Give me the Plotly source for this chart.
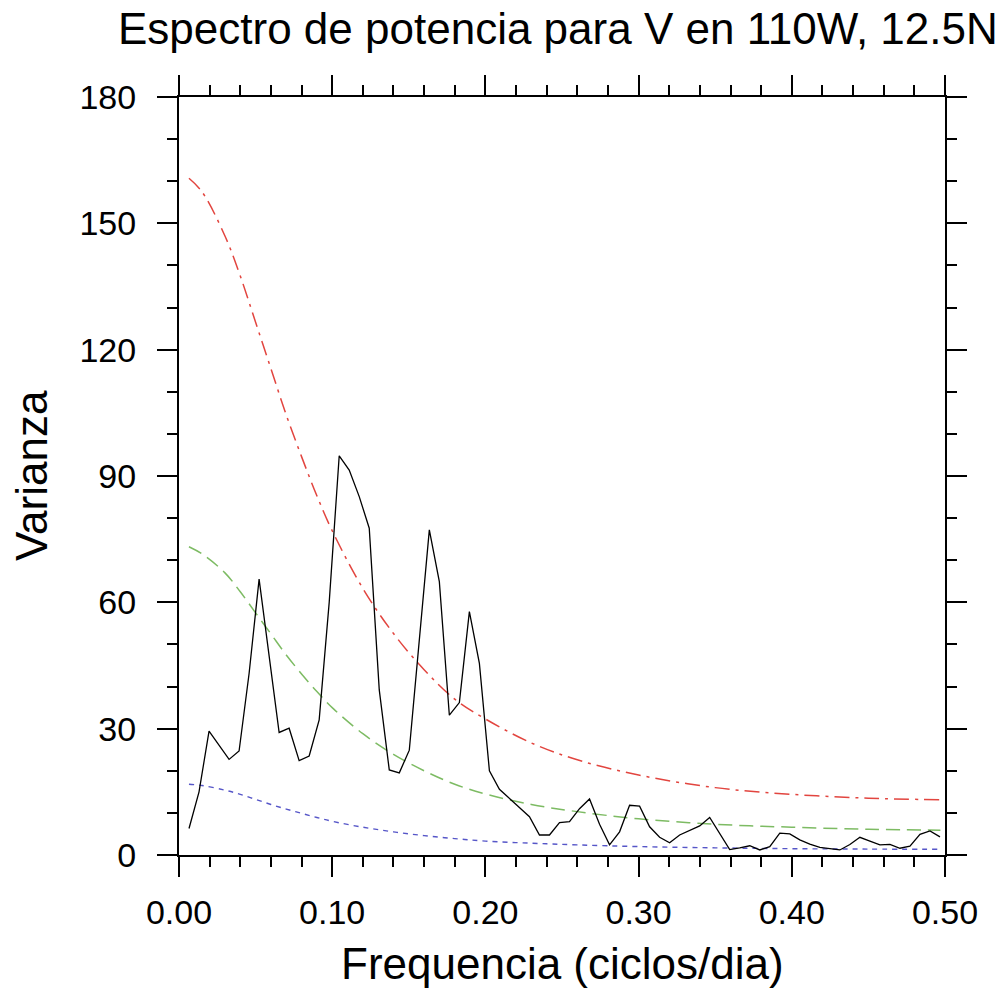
import numpy as np
import plotly.graph_objects as go

# ---- data ----
harmonics = np.arange(1, 77)          # spectral estimates k = 1..76
n_len = 153                            # series length -> freq = k / n_len
freq = harmonics / n_len

spectrum = [6.3, 15.0, 29.4, 26.0, 22.7, 24.7, 43.1, 65.5, 47.0, 29.1,
            30.1, 22.4, 23.5, 32.1, 60.0, 94.8, 91.4, 85.1, 77.6, 39.2,
            20.2, 19.5, 24.9, 51.0, 77.2, 64.9, 33.2, 36.2, 57.8, 45.5,
            20.0, 15.6, 13.5, 11.4, 9.1, 4.75, 4.75, 7.7, 7.9, 11.0,
            13.3, 7.3, 2.4, 5.5, 11.8, 11.6, 6.7, 4.2, 2.9, 4.75,
            5.8, 6.9, 8.9, 5.2, 1.3, 1.7, 2.2, 1.2, 2.0, 5.2,
            5.0, 3.6, 2.6, 1.8, 1.5, 1.2, 2.5, 4.2, 3.3, 2.4,
            2.5, 1.6, 2.1, 4.9, 5.7, 4.3]

curve_freq = [0.0065, 0.015, 0.03, 0.04, 0.05, 0.06, 0.07, 0.08, 0.09, 0.10,
              0.12, 0.14, 0.16, 0.18, 0.20, 0.23, 0.26, 0.30, 0.35, 0.40,
              0.45, 0.497]
upper_ci = [160.7, 157.5, 147.0, 137.5, 126.5, 115.5, 104.5, 94.6, 85.3, 77.0,
            63.3, 52.6, 44.0, 37.0, 32.3, 26.6, 22.6, 19.0, 16.0, 14.4,
            13.5, 13.1]
markov = [73.2, 71.5, 67.0, 62.5, 57.5, 52.5, 47.5, 43.0, 38.8, 35.0,
          28.8, 23.9, 20.0, 16.8, 14.5, 12.0, 10.3, 8.6, 7.3, 6.6,
          6.1, 5.9]
lower_ci = [16.8, 16.5, 15.4, 14.4, 13.2, 12.0, 10.9, 9.9, 8.9, 8.0,
            6.6, 5.5, 4.6, 3.9, 3.3, 2.8, 2.4, 2.0, 1.7, 1.5,
            1.4, 1.35]

title_text = "Espectro de potencia para V en 110W, 12.5N"
x_title = "Frequencia (ciclos/dia)"
y_title = "Varianza"

FONT = "Liberation Sans, Arial, Helvetica, sans-serif"

fig = go.Figure()
fig.add_trace(go.Scatter(x=curve_freq, y=upper_ci, mode="lines", line_shape="spline",
                         line=dict(color="#e2453f", width=1.5, dash="15px,6px,3px,6px")))
fig.add_trace(go.Scatter(x=curve_freq, y=markov, mode="lines", line_shape="spline",
                         line=dict(color="#7dbb63", width=1.5, dash="14px,7px")))
fig.add_trace(go.Scatter(x=curve_freq, y=lower_ci, mode="lines", line_shape="spline",
                         line=dict(color="#5656c8", width=1.4, dash="5px,5px")))
fig.add_trace(go.Scatter(x=freq, y=spectrum, mode="lines",
                         line=dict(color="black", width=1.3)))

W, H = 1006, 994
ml, mr, mt, mb = 179, 61, 97, 139

axis_common = dict(
    showgrid=False, zeroline=False, showline=True, linecolor="black", linewidth=2,
    mirror="ticks", ticks="outside", ticklen=20, tickwidth=2, tickcolor="black",
    tickfont=dict(family=FONT, size=34, color="black"),
)

fig.update_xaxes(range=[0, 0.5], dtick=0.1, tick0=0, tickformat=".2f",
                 minor=dict(dtick=0.02, ticklen=10, tickwidth=1.5, ticks="outside",
                            tickcolor="black", showgrid=False),
                 ticklabelstandoff=6, **axis_common)
fig.update_yaxes(range=[0, 180], dtick=30, tick0=0,
                 minor=dict(dtick=10, ticklen=10, tickwidth=1.5, ticks="outside",
                            tickcolor="black", showgrid=False),
                 ticklabelstandoff=14, **axis_common)

plot_h = H - mt - mb
plot_w = W - ml - mr

fig.update_layout(
    width=W, height=H,
    margin=dict(l=ml, r=mr, t=mt, b=mb, pad=0),
    paper_bgcolor="white", plot_bgcolor="white",
    showlegend=False,
    title=dict(text=title_text, font=dict(family=FONT, size=44, color="black"),
               x=118 / W, xref="container", xanchor="left",
               y=1 - 29 / H, yref="container", yanchor="middle"),
    annotations=[
        dict(text=x_title, xref="paper", yref="paper", x=0.5,
             y=-(963 - (H - mb)) / plot_h, xanchor="center", yanchor="middle",
             showarrow=False, font=dict(family=FONT, size=44, color="black")),
        dict(text=y_title, xref="paper", yref="paper", x=-(ml - 31) / plot_w,
             y=0.5, xanchor="center", yanchor="middle", textangle=-90,
             showarrow=False, font=dict(family=FONT, size=44, color="black")),
    ],
)

fig.write_html("out.html",
               config={"displayModeBar": False},
               post_script="document.body.style.margin='0';document.body.style.overflow='hidden';")
